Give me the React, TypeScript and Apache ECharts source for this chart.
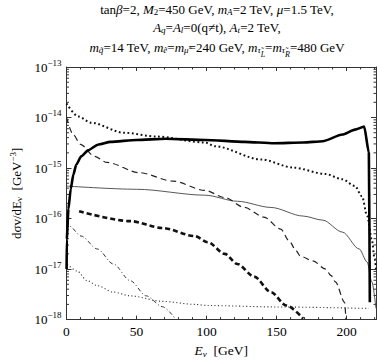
import React, { useEffect, useRef } from 'react';
import * as echarts from 'echarts';

const X_MIN = 0;
const X_MAX = 221;
const Y_MIN = 1e-18;
const Y_MAX = 1e-13;

// thick solid curve
const thickSolidE = [0.1, 0.2, 1.4, 3.0, 4.9, 7.0, 10.5, 15.4, 22.4, 31.5, 50, 71, 99, 127, 148, 169, 183, 197, 206, 212.6, 215.9, 216.6];
const thickSolidV = [1.0e-17, 3.9e-17, 1.55e-16, 3.8e-16, 7.4e-16, 1.17e-15, 1.7e-15, 2.24e-15, 2.9e-15, 3.3e-15, 3.6e-15, 3.8e-15, 3.6e-15, 3.3e-15, 3.1e-15, 3.2e-15, 3.4e-15, 4.6e-15, 5.75e-15, 6.6e-15, 2.0e-15, 2.2e-18];

// thick dotted curve
const thickDottedE = [0, 8.4, 17.5, 41, 64, 99, 106, 139, 162, 185, 197, 206, 211, 214.7, 218, 220, 221];
const thickDottedV = [1.9e-14, 1.05e-14, 7.9e-15, 5.0e-15, 4.2e-15, 3.2e-15, 2.7e-15, 1.48e-15, 1.02e-15, 7.6e-16, 6.0e-16, 4.4e-16, 2.75e-16, 1.12e-16, 3.9e-17, 1.6e-17, 1.0e-17];

// medium dashed curve
const dashedE = [0, 5, 10, 20, 29, 52, 76, 99, 113, 127, 141, 153, 159, 164, 167, 176, 185, 189, 192, 198.6, 199.5];
const dashedV = [1.0e-14, 4.5e-15, 2.95e-15, 1.7e-15, 1.29e-15, 8.1e-16, 5.5e-16, 3.6e-16, 2.6e-16, 1.66e-16, 1.07e-16, 6.2e-17, 3.6e-17, 2.3e-17, 1.8e-17, 1.45e-17, 1.0e-17, 7.4e-18, 5.6e-18, 2.2e-18, 1.0e-18];

// thin solid curve
const thinSolidE = [0, 50, 99, 122, 146, 169, 183, 197, 209, 214.7, 218, 221];
const thinSolidV = [4.4e-16, 3.8e-16, 2.9e-16, 2.2e-16, 1.66e-16, 1.12e-16, 9.3e-17, 5.4e-17, 2.5e-17, 1.38e-17, 5.6e-18, 1.66e-18];

// thick dashed curve
const thickDashedE = [9, 45.5, 68.5, 91.6, 101, 113, 122, 134, 146, 157, 169];
const thickDashedV = [1.4e-16, 8.9e-17, 6.5e-17, 4.5e-17, 3.4e-17, 2.0e-17, 1.26e-17, 7.1e-18, 3.5e-18, 1.9e-18, 1.05e-18];

// dash-dot curve
const dashDotE = [0.5, 2, 10.5, 22, 33.5, 45.5, 57, 68.5, 77.6];
const dashDotV = [8.9e-17, 7.1e-17, 4.5e-17, 2.5e-17, 1.26e-17, 5.9e-18, 2.95e-18, 1.8e-18, 1.05e-18];

// thin dotted curve
const thinDottedE = [0.7, 7.7, 14.7, 22, 33.5, 45.5, 68.5, 91.6, 101, 150, 216];
const thinDottedV = [1.26e-17, 9.1e-18, 5.9e-18, 4.7e-18, 3.5e-18, 2.95e-18, 2.3e-18, 2.0e-18, 1.9e-18, 1.78e-18, 1.66e-18];

const pair = (xs: number[], ys: number[]) => xs.map((x, i) => [x, ys[i]]);

const SERIF = 'Liberation Serif';
const FRAME = '#333';

function App() {
  const ref = useRef<HTMLDivElement>(null);
  useEffect(() => {
    if (!ref.current) return;
    const chart = echarts.init(ref.current, null, { renderer: 'svg' });

    const yMinor: number[][] = [];
    for (let n = -18; n < -13; n++) {
      for (let k = 2; k <= 9; k++) yMinor.push([X_MIN, k * Math.pow(10, n)]);
    }
    const xMinor: number[][] = [];
    for (let v = 10; v < X_MAX; v += 10) if (v % 50 !== 0) xMinor.push([v, Y_MIN]);

    const titleRich = {
      r: { fontFamily: SERIF, fontSize: 13, fill: '#000' },
      i: { fontFamily: SERIF, fontSize: 13, fontStyle: 'italic', fill: '#000' },
      s: { fontFamily: SERIF, fontSize: 9, fontStyle: 'italic', fill: '#000', padding: [6, 0, 0, 0] },
      sr: { fontFamily: SERIF, fontSize: 9, fill: '#000', padding: [6, 0, 0, 0] },
      ss: { fontFamily: SERIF, fontSize: 8, fontStyle: 'italic', fill: '#000', padding: [14, 0, 0, 0] },
    };
    const titleLines = [
      '{r|tan}{i|β}{r|=2, }{i|M}{sr|2}{r|=450 GeV, }{i|m}{s|A}{r|=2 TeV, }{i|μ}{r|=1.5 TeV,}',
      '{i|A}{s|q}{r|=}{i|A}{s|l}{r|=0(q≠t), }{i|A}{s|t}{r|=2 TeV,}',
      '{i|m}{s|q̃}{r|=14 TeV, }{i|m}{s|ẽ}{r|=}{i|m}{s|μ̃}{r|=240 GeV, }{i|m}{s|τ̃}{ss|L}{r|=}{i|m}{s|τ̃}{ss|R}{r|=480 GeV}',
    ];
    const titleY = [9, 27, 47];

    const lineSeries = (data: number[][], color: string, width: number, type: any, smooth = 0.3) => ({
      type: 'line',
      data,
      showSymbol: false,
      symbol: 'none',
      smooth,
      smoothMonotone: 'x',
      clip: true,
      lineStyle: { color, width, type },
      silent: true,
    });

    const option: any = {
      animation: false,
      backgroundColor: '#fff',
      textStyle: { fontFamily: SERIF },
      grid: { left: 58, right: 6, top: 67, bottom: 42 },
      graphic: titleLines.map((t, k) => ({
        type: 'text',
        x: 217,
        y: titleY[k],
        style: {
          text: t,
          rich: titleRich,
          align: 'center',
          verticalAlign: 'middle',
          textAlign: 'center',
          textVerticalAlign: 'middle',
          fontFamily: SERIF,
          fontSize: 13,
          fill: '#000',
        },
      })),
      xAxis: [
        {
          type: 'value',
          min: X_MIN,
          max: X_MAX,
          interval: 50,
          position: 'bottom',
          axisLine: { show: true, onZero: false, lineStyle: { color: FRAME, width: 1 } },
          axisTick: { show: true, inside: true, length: 4, lineStyle: { color: FRAME } },
          axisLabel: { show: true, margin: 5, showMaxLabel: false, color: '#000', fontFamily: SERIF, fontSize: 13.5 },
          splitLine: { show: false },
          name: '{i|E}{s|ν}{r|  [GeV]}',
          nameLocation: 'middle',
          nameGap: 22,
          nameTextStyle: {
            fontFamily: SERIF,
            rich: {
              r: { fontFamily: SERIF, fontSize: 13.5, color: '#000' },
              i: { fontFamily: SERIF, fontSize: 13.5, fontStyle: 'italic', color: '#000' },
              s: { fontFamily: SERIF, fontSize: 9, fontStyle: 'italic', color: '#000', padding: [6, 0, 0, 0] },
            },
          },
        },
        {
          type: 'value',
          min: X_MIN,
          max: X_MAX,
          interval: 50,
          position: 'top',
          axisLine: { show: true, onZero: false, lineStyle: { color: FRAME, width: 1 } },
          axisTick: { show: true, inside: true, length: 4, lineStyle: { color: FRAME } },
          axisLabel: { show: false },
          splitLine: { show: false },
        },
      ],
      yAxis: [
        {
          type: 'log',
          logBase: 10,
          min: Y_MIN,
          max: Y_MAX,
          splitNumber: 5,
          position: 'left',
          axisLine: { show: true, onZero: false, lineStyle: { color: FRAME, width: 1 } },
          axisTick: { show: true, inside: true, length: 5, lineStyle: { color: FRAME } },
          axisLabel: {
            show: true,
            margin: 5,
            fontFamily: SERIF,
            formatter: (v: number) => {
              const e = Math.round(Math.log10(v));
              return '{b|10}{s|' + (e < 0 ? '\u2212' + -e : String(e)) + '}';
            },
            rich: {
              b: { fontFamily: SERIF, fontSize: 13, color: '#000' },
              s: { fontFamily: SERIF, fontSize: 9, color: '#000', padding: [0, 0, 9, 0] },
            },
          },
          splitLine: { show: false },
          name: '{r|dσv/dE}{s|ν}{r|  [GeV}{u|\u22123}{r|]}',
          nameLocation: 'middle',
          nameGap: 40,
          nameRotate: 90,
          nameTextStyle: {
            fontFamily: SERIF,
            rich: {
              r: { fontFamily: SERIF, fontSize: 13, color: '#000' },
              s: { fontFamily: SERIF, fontSize: 9, color: '#000', padding: [6, 0, 0, 0] },
              u: { fontFamily: SERIF, fontSize: 9, color: '#000', padding: [0, 0, 7, 0] },
            },
          },
        },
        {
          type: 'log',
          logBase: 10,
          min: Y_MIN,
          max: Y_MAX,
          splitNumber: 5,
          position: 'right',
          axisLine: { show: true, onZero: false, lineStyle: { color: FRAME, width: 1 } },
          axisTick: { show: true, inside: true, length: 5, lineStyle: { color: FRAME } },
          axisLabel: { show: false },
          splitLine: { show: false },
        },
      ],
      series: [
        {
          type: 'custom',
          coordinateSystem: 'cartesian2d',
          silent: true,
          data: yMinor,
          renderItem: (params: any, api: any) => {
            const v = api.value(1);
            const pL = api.coord([X_MIN, v]);
            const pR = api.coord([X_MAX, v]);
            return {
              type: 'group',
              children: [
                { type: 'line', shape: { x1: pL[0], y1: pL[1], x2: pL[0] + 2.5, y2: pL[1] }, style: { stroke: FRAME, lineWidth: 1 } },
                { type: 'line', shape: { x1: pR[0], y1: pR[1], x2: pR[0] - 2.5, y2: pR[1] }, style: { stroke: FRAME, lineWidth: 1 } },
              ],
            };
          },
        },
        {
          type: 'custom',
          coordinateSystem: 'cartesian2d',
          silent: true,
          data: xMinor,
          renderItem: (params: any, api: any) => {
            const v = api.value(0);
            const pB = api.coord([v, Y_MIN]);
            const pT = api.coord([v, Y_MAX]);
            return {
              type: 'group',
              children: [
                { type: 'line', shape: { x1: pB[0], y1: pB[1], x2: pB[0], y2: pB[1] - 2.5 }, style: { stroke: FRAME, lineWidth: 1 } },
                { type: 'line', shape: { x1: pT[0], y1: pT[1], x2: pT[0], y2: pT[1] + 2.5 }, style: { stroke: FRAME, lineWidth: 1 } },
              ],
            };
          },
        },
        lineSeries(pair(thinDottedE, thinDottedV), '#333', 1.1, [1.1, 2.4]),
        lineSeries(pair(dashDotE, dashDotV), '#333', 1, [4, 2.5, 1, 2.5]),
        lineSeries(pair(thickDashedE, thickDashedV), '#111', 2.6, [5, 3]),
        lineSeries(pair(thinSolidE, thinSolidV), '#444', 0.9, 'solid'),
        lineSeries(pair(dashedE, dashedV), '#222', 1.2, [6, 4]),
        lineSeries(pair(thickDottedE, thickDottedV), '#111', 2, [1.8, 2.6]),
        lineSeries(pair(thickSolidE, thickSolidV), '#000', 2.6, 'solid', 0.2),
      ],
    };
    chart.setOption(option);
    return () => chart.dispose();
  }, []);
  return (
    <div
      ref={ref}
      style={{ position: 'fixed', left: 0, top: 0, width: 382, height: 363, background: '#fff' }}
    />
  );
}

export default App;
